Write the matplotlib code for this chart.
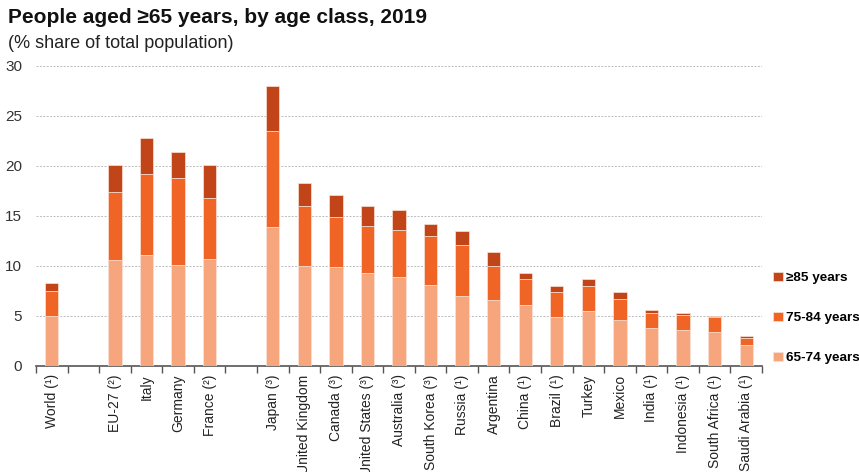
import numpy as np
import matplotlib.pyplot as plt

plt.rcParams["font.family"] = ["Liberation Sans", "DejaVu Sans"]

# categories, with None marking the empty slots between groups
countries = ["World (¹)", None, "EU-27 (²)", "Italy", "Germany", "France (²)", None,
             "Japan (³)", "United Kingdom", "Canada (³)", "United States (³)",
             "Australia (³)", "South Korea (³)", "Russia (¹)", "Argentina", "China (¹)",
             "Brazil (¹)", "Turkey", "Mexico", "India (¹)", "Indonesia (¹)",
             "South Africa (¹)", "Saudi Arabia (¹)"]
age_65_74 = [5.0, None, 10.6, 11.1, 10.1, 10.7, None,
             13.9, 10.0, 9.9, 9.3, 8.9, 8.1, 7.0, 6.6, 6.1,
             4.9, 5.5, 4.6, 3.8, 3.6, 3.4, 2.1]
age_75_84 = [2.5, None, 6.8, 8.1, 8.7, 6.1, None,
             9.6, 6.0, 5.0, 4.7, 4.7, 4.9, 5.1, 3.4, 2.6,
             2.5, 2.5, 2.1, 1.5, 1.5, 1.5, 0.7]
age_85 = [0.8, None, 2.7, 3.6, 2.6, 3.3, None,
          4.5, 2.3, 2.2, 2.0, 2.0, 1.2, 1.4, 1.4, 0.6,
          0.6, 0.7, 0.7, 0.3, 0.2, 0.1, 0.2]
series_labels = ["65-74 years", "75-84 years", "≥85 years"]
colors = ["#F6A57C", "#F06525", "#C14518"]

n = len(countries)
idx = np.array([i for i in range(n) if countries[i] is not None])
a = np.array([age_65_74[i] for i in idx])
b = np.array([age_75_84[i] for i in idx])
c = np.array([age_85[i] for i in idx])

fig = plt.figure(figsize=(8.59, 4.72), dpi=100)
ax = fig.add_axes([0.042, 0.2246, 0.845, 0.636])

w = 0.42
kw = dict(width=w, edgecolor="#FBE3D6", linewidth=0.5, zorder=3)
h1 = ax.bar(idx, a, color=colors[0], label=series_labels[0], **kw)
h2 = ax.bar(idx, b, bottom=a, color=colors[1], label=series_labels[1], **kw)
h3 = ax.bar(idx, c, bottom=a + b, color=colors[2], label=series_labels[2], **kw)

ax.set_xlim(-0.5, n - 0.5)
ax.set_ylim(0, 30)
ax.set_yticks(np.arange(0, 31, 5))
ax.yaxis.grid(True, color="#BBBBBB", linestyle=(0, (2, 1.5)), linewidth=0.7, zorder=0)
ax.tick_params(axis="y", length=0, labelsize=11, colors="#333333", pad=10)

ax.set_xticks(idx)
ax.set_xticklabels([countries[i] for i in idx], rotation=90, fontsize=10, color="#222222")
ax.set_xticks(np.arange(-0.5, n, 1), minor=True)
ax.tick_params(axis="x", which="major", length=0, pad=6)
ax.tick_params(axis="x", which="minor", length=5, width=1, color="#555555")

for s in ["left", "right", "top"]:
    ax.spines[s].set_visible(False)
ax.spines["bottom"].set_color("#555555")
ax.spines["bottom"].set_linewidth(1.2)

leg = fig.legend([h3, h2, h1], [series_labels[2], series_labels[1], series_labels[0]],
                 loc="center left", bbox_to_anchor=(0.886, 0.326), frameon=False,
                 handlelength=0.7, handleheight=0.7, handletextpad=0.25,
                 labelspacing=2.05, prop={"weight": "bold", "size": 9.7})

fig.text(0.009, 0.962, "People aged ≥65 years, by age class, 2019", fontsize=15,
         fontweight="bold", va="center", color="#111111")
fig.text(0.009, 0.908, "(% share of total population)", fontsize=13, va="center",
         color="#222222")

fig.savefig("out.png", dpi=100)
